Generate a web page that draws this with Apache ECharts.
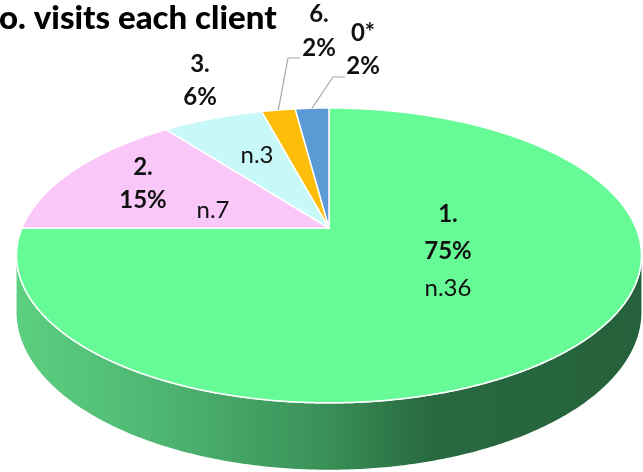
<!DOCTYPE html>
<html><head><meta charset="utf-8">
<script src="https://cdn.jsdelivr.net/npm/echarts@6/dist/echarts.min.js"></script>
<style>html,body{margin:0;padding:0;background:#fff;overflow:hidden}#c{width:643px;height:472px}</style>
</head><body><div id="c"></div>
<script>
// ---- data ----
const categories = ['1.', '2.', '3.', '6.', '0*'];
const counts = [36, 7, 3, 1, 1];
const percentLabels = ['75%', '15%', '6%', '2%', '2%'];
const countLabels = ['n.36', 'n.7', 'n.3', '', ''];
const titleText = 'o. visits each client';

// ---- styles / layout ----
const colors = ['#66fb96', '#f9c8f9', '#c8f8f8', '#fdbd09', '#5b9bd5'];
const FONT = 'Lato, "Open Sans", sans-serif';
const CX = 329, A = 307, K = 0.186, H = -537, D = 765, T = 54.5;
const labelAt = [[448, 251], [143, 184], [200, 81], [319, 31], [363, 50]];
const labelLH = [37, 33, 33, 34, 33];
const countAt = [null, [213, 210], [257, 155], null, null];
const leaderKnee = [null, null, null, [288, 58], [333, 77]];
const leaderLen = 12;

const total = counts.reduce((a, b) => a + b, 0);
const starts = [];
{ let acc = 0; counts.forEach(c => { starts.push(acc / total * Math.PI * 2); acc += c; }); }
function range(i) { return [starts[i], starts[i] + counts[i] / total * Math.PI * 2]; }

function proj(theta, rho, drop) {
  const u = rho * Math.sin(theta), v = rho * Math.cos(theta);
  const s = 1 / (1 + K * v);
  return [CX + A * u * s, H + (D + (drop || 0)) * s];
}
function arc(a0, a1, drop) {
  const pts = [];
  const n = Math.max(2, Math.ceil(Math.abs(a1 - a0) / (Math.PI / 360)));
  for (let j = 0; j <= n; j++) pts.push(proj(a0 + (a1 - a0) * j / n, 1, drop));
  return pts;
}
const thL = Math.acos(-K), thR = Math.PI * 2 - Math.acos(-K);

const chart = echarts.init(document.getElementById('c'), null, {renderer: 'canvas'});
chart.setOption({
  animation: false,
  backgroundColor: '#fff',
  title: {
    text: titleText, left: -6, top: -3,
    textStyle: {fontFamily: FONT, fontWeight: 900, fontSize: 33, color: '#000'}
  },
  series: [
    { // side walls
      type: 'custom', coordinateSystem: 'none', z: 1,
      data: counts,
      renderItem: function (params) {
        const i = params.dataIndex;
        const r = range(i);
        const lo = Math.max(r[0], thL), hi = Math.min(r[1], thR);
        if (hi <= lo) return {type: 'group', children: []};
        const top = arc(lo, hi, 0);
        const bot = arc(hi, lo, T);
        return {type: 'group', children: [
          {type: 'polygon', shape: {points: top.concat(bot)},
           style: {fill: {type: 'linear', x: 0, y: 0, x2: 1, y2: 0, colorStops: [
             {offset: 0, color: '#5bd080'}, {offset: 0.21, color: '#50b874'},
             {offset: 0.49, color: '#3a9158'}, {offset: 0.66, color: '#296a40'},
             {offset: 1, color: '#25613a'}]}, stroke: null}},
          {type: 'polyline', shape: {points: top}, style: {stroke: '#ffffff', lineWidth: 1.5, fill: null}}
        ]};
      }
    },
    { // top faces
      type: 'custom', coordinateSystem: 'none', z: 2,
      data: counts,
      renderItem: function (params) {
        const i = params.dataIndex;
        const r = range(i);
        const pts = [proj(0, 0, 0)].concat(arc(r[0], r[1], 0));
        return {type: 'polygon', shape: {points: pts},
          style: {fill: colors[i], stroke: '#ffffff', lineWidth: 1.5, lineJoin: 'round'}};
      }
    },
    { // labels
      type: 'custom', coordinateSystem: 'none', z: 3,
      data: counts,
      renderItem: function (params) {
        const i = params.dataIndex;
        const r = range(i);
        const mid = (r[0] + r[1]) / 2;
        const children = [];
        let txt = '{b|' + categories[i] + '}\n{b|' + percentLabels[i] + '}';
        if (!countAt[i] && countLabels[i]) txt += '\n{n|' + countLabels[i] + '}';
        const rich = {
          b: {fontFamily: FONT, fontWeight: 'bold', fontSize: 24, lineHeight: labelLH[i], fill: '#111'},
          n: {fontFamily: FONT, fontWeight: 'normal', fontSize: 24, lineHeight: labelLH[i], fill: '#111'}
        };
        children.push({type: 'text', style: {text: txt, rich: rich, x: labelAt[i][0], y: labelAt[i][1],
          align: 'center', verticalAlign: 'middle'}});
        if (countAt[i]) {
          children.push({type: 'text', style: {text: countLabels[i], x: countAt[i][0], y: countAt[i][1],
            align: 'center', verticalAlign: 'middle', fontFamily: FONT, fontSize: 24, fill: '#111'}});
        }
        if (leaderKnee[i]) {
          const e = proj(mid, 1, 0);
          const kn = leaderKnee[i];
          children.push({type: 'polyline', shape: {points: [e, kn, [kn[0] + leaderLen, kn[1]]]},
            style: {stroke: '#a6a6a6', lineWidth: 1.2, fill: null}});
        }
        return {type: 'group', children: children};
      }
    }
  ]
});
</script>
</body></html>
